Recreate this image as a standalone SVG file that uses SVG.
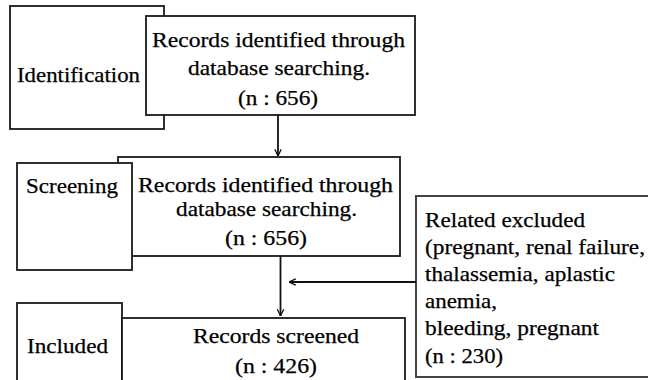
<svg xmlns="http://www.w3.org/2000/svg" width="648" height="380" viewBox="0 0 648 380">
<defs>
<style>
.box{fill:#fff;stroke:#1a1a1a;stroke-width:1.8}
.ex{fill:#fff;stroke:#444;stroke-width:2}
.t{font-family:'Liberation Serif','Times New Roman',Times,serif;font-size:21px;fill:#000;stroke:#000;stroke-width:0.25}
.ln{stroke:#111;stroke-width:1.8;fill:none}
</style>
<marker id="ah" viewBox="0 0 10 10" refX="9.5" refY="5" markerWidth="8" markerHeight="8" markerUnits="userSpaceOnUse" orient="auto">
<path d="M1,1 L9.5,5 L1,9" fill="none" stroke="#111" stroke-width="1.6"/>
</marker>
</defs>
<rect width="648" height="380" fill="#fff"/>
<g id="identification">
<rect class="box" x="10" y="6" width="154" height="123"/>
<text class="t" x="17" y="82" textLength="123" lengthAdjust="spacingAndGlyphs">Identification</text>
</g>
<g id="records1">
<rect class="box" x="146" y="16" width="269" height="99"/>
<text class="t" x="152" y="47" textLength="253" lengthAdjust="spacingAndGlyphs">Records identified through</text>
<text class="t" x="188" y="75" textLength="182" lengthAdjust="spacingAndGlyphs">database searching.</text>
<text class="t" x="238" y="105" textLength="80" lengthAdjust="spacingAndGlyphs">(n : 656)</text>
</g>
<g id="records2">
<rect class="box" x="118" y="157" width="282" height="99"/>
<text class="t" x="138" y="192" textLength="255" lengthAdjust="spacingAndGlyphs">Records identified through</text>
<text class="t" x="176" y="216" textLength="181" lengthAdjust="spacingAndGlyphs">database searching.</text>
<text class="t" x="225" y="245" textLength="82" lengthAdjust="spacingAndGlyphs">(n : 656)</text>
</g>
<g id="screening">
<rect class="box" x="17" y="163" width="115" height="107"/>
<text class="t" x="26" y="193" textLength="92" lengthAdjust="spacingAndGlyphs">Screening</text>
</g>
<g id="included">
<rect class="box" x="17" y="303" width="105" height="90"/>
<text class="t" x="27" y="353" textLength="81" lengthAdjust="spacingAndGlyphs">Included</text>
</g>
<g id="screened">
<rect class="box" x="122" y="318" width="283" height="75"/>
<text class="t" x="193" y="343" textLength="166" lengthAdjust="spacingAndGlyphs">Records screened</text>
<text class="t" x="235" y="373" textLength="82" lengthAdjust="spacingAndGlyphs">(n : 426)</text>
</g>
<g id="excluded">
<rect class="ex" x="416" y="196" width="240" height="181"/>
<text class="t" x="425" y="227" textLength="160" lengthAdjust="spacingAndGlyphs">Related excluded</text>
<text class="t" x="425" y="254" textLength="220" lengthAdjust="spacingAndGlyphs">(pregnant, renal failure,</text>
<text class="t" x="425" y="281" textLength="190" lengthAdjust="spacingAndGlyphs">thalassemia, aplastic</text>
<text class="t" x="425" y="308" textLength="72" lengthAdjust="spacingAndGlyphs">anemia,</text>
<text class="t" x="425" y="335" textLength="174" lengthAdjust="spacingAndGlyphs">bleeding, pregnant</text>
<text class="t" x="425" y="363" textLength="78" lengthAdjust="spacingAndGlyphs">(n : 230)</text>
</g>
<g id="connectors">
<line class="ln" x1="278" y1="115" x2="278" y2="156" marker-end="url(#ah)"/>
<line class="ln" x1="280.5" y1="256" x2="280.5" y2="316" marker-end="url(#ah)"/>
<line class="ln" x1="416" y1="282" x2="289" y2="282" marker-end="url(#ah)"/>
</g>
</svg>
